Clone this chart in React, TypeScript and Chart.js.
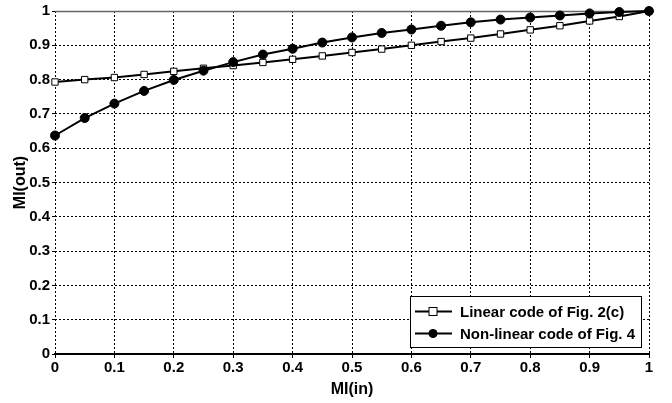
import React, { useEffect, useRef } from "react";
import { Chart, registerables } from "chart.js";

Chart.register(...registerables);

const xValues = [0, 0.05, 0.1, 0.15, 0.2, 0.25, 0.3, 0.35, 0.4, 0.45, 0.5, 0.55, 0.6, 0.65, 0.7, 0.75, 0.8, 0.85, 0.9, 0.95, 1];
const linearValues = [0.793, 0.8, 0.806, 0.815, 0.824, 0.833, 0.841, 0.85, 0.859, 0.869, 0.879, 0.889, 0.9, 0.911, 0.921, 0.933, 0.945, 0.957, 0.971, 0.984, 1.0];
const nonLinearValues = [0.637, 0.688, 0.73, 0.767, 0.799, 0.826, 0.851, 0.873, 0.89, 0.908, 0.923, 0.936, 0.946, 0.957, 0.967, 0.975, 0.981, 0.987, 0.993, 0.997, 1.0];
const seriesLabels = ["Linear code of Fig. 2(c)", "Non-linear code of Fig. 4"];
const xTitle = "MI(in)";
const yTitle = "MI(out)";

const FONT = "'Liberation Sans', Arial, Helvetica, sans-serif";

const topFrame = {
  id: "topFrame",
  beforeDatasetsDraw(chart: any) {
    const { ctx, chartArea } = chart;
    ctx.save();
    ctx.setLineDash([]);
    ctx.strokeStyle = "#666";
    ctx.lineWidth = 1.5;
    ctx.beginPath();
    ctx.moveTo(chartArea.left, chartArea.top + 0.5);
    ctx.lineTo(chartArea.right, chartArea.top + 0.5);
    ctx.stroke();
    ctx.restore();
  },
};

const boxLegend = {
  id: "boxLegend",
  afterDraw(chart: any) {
    const { ctx, chartArea } = chart;
    ctx.save();
    ctx.setLineDash([]);
    const w = 231;
    const h = 51;
    const x = chartArea.right - 8 - w;
    const y = chartArea.bottom - 7 - h;
    ctx.fillStyle = "#fff";
    ctx.fillRect(x, y, w, h);
    ctx.strokeStyle = "#000";
    ctx.lineWidth = 1;
    ctx.strokeRect(x + 0.5, y + 0.5, w, h);
    const rows = [y + 15, y + 37];
    chart.data.datasets.forEach((ds: any, i: number) => {
      const ry = Math.round(rows[i]) + 0.5;
      ctx.strokeStyle = "#000";
      ctx.lineWidth = 2;
      ctx.beginPath();
      ctx.moveTo(x + 5, ry);
      ctx.lineTo(x + 42, ry);
      ctx.stroke();
      const cx = x + 23;
      if (ds.pointStyle === "rect") {
        ctx.fillStyle = "#fff";
        ctx.lineWidth = 1;
        ctx.fillRect(cx - 4, ry - 4, 8, 8);
        ctx.strokeRect(cx - 4, ry - 4, 8, 8);
      } else {
        ctx.fillStyle = "#000";
        ctx.beginPath();
        ctx.arc(cx, ry, 4.5, 0, Math.PI * 2);
        ctx.fill();
      }
      ctx.fillStyle = "#000";
      ctx.font = `bold 15px ${FONT}`;
      ctx.textBaseline = "middle";
      ctx.textAlign = "left";
      ctx.fillText(ds.label, x + 50, ry + 1);
    });
    ctx.restore();
  },
};

export default function App() {
  const ref = useRef<HTMLCanvasElement | null>(null);
  useEffect(() => {
    document.body.style.margin = "0";
    const canvas = ref.current;
    if (!canvas) return;
    const fmt = (v: any) => String(Number(Number(v).toFixed(1)));
    const chart = new Chart(canvas, {
      type: "line",
      data: {
        datasets: [
          {
            label: seriesLabels[0],
            data: xValues.map((x, i) => ({ x, y: linearValues[i] })),
            borderColor: "#000",
            borderWidth: 2,
            pointStyle: "rect",
            pointRadius: 4.5,
            pointBackgroundColor: "#fff",
            pointBorderColor: "#000",
            pointBorderWidth: 1,
            tension: 0,
            clip: false,
            order: 1,
          },
          {
            label: seriesLabels[1],
            data: xValues.map((x, i) => ({ x, y: nonLinearValues[i] })),
            borderColor: "#000",
            borderWidth: 2,
            pointStyle: "circle",
            pointRadius: 4.5,
            pointBackgroundColor: "#000",
            pointBorderColor: "#000",
            pointBorderWidth: 1,
            tension: 0,
            clip: false,
            order: 0,
          },
        ],
      },
      options: {
        animation: false,
        responsive: false,
        maintainAspectRatio: false,
        layout: { padding: { left: 0, top: 11, right: 23, bottom: 0 } },
        plugins: { legend: { display: false }, tooltip: { enabled: false } },
        scales: {
          x: {
            type: "linear",
            min: 0,
            max: 1,
            afterFit: (s: any) => {
              s.height = 49;
            },
            ticks: {
              stepSize: 0.1,
              callback: fmt,
              color: "#000",
              font: { family: FONT, size: 15, weight: "bold" },
              padding: 1,
              maxRotation: 0,
            },
            grid: {
              color: "#000",
              lineWidth: 1,
              tickLength: 4,
              tickColor: "#000",
            },
            border: { display: true, color: "#000", width: 2, dash: [2, 2] },
            title: {
              display: true,
              text: xTitle,
              color: "#000",
              font: { family: FONT, size: 16, weight: "bold" },
              padding: { top: 0, bottom: 4 },
            },
          },
          y: {
            type: "linear",
            min: 0,
            max: 1,
            afterFit: (s: any) => {
              s.width = 55;
            },
            ticks: {
              stepSize: 0.1,
              callback: fmt,
              color: "#000",
              font: { family: FONT, size: 15, weight: "bold" },
              padding: 2,
            },
            grid: {
              color: "#000",
              lineWidth: 1,
              tickLength: 3,
              tickColor: "#000",
            },
            border: { display: false, dash: [2, 2] },
            title: {
              display: true,
              text: yTitle,
              color: "#000",
              font: { family: FONT, size: 16, weight: "bold" },
              padding: { top: 11, bottom: 0 },
            },
          },
        },
      } as any,
      plugins: [topFrame, boxLegend],
    });
    return () => chart.destroy();
  }, []);
  return (
    <div style={{ width: 672, height: 403, background: "#fff" }}>
      <canvas ref={ref} width={672} height={403} style={{ width: 672, height: 403, display: "block" }} />
    </div>
  );
}
